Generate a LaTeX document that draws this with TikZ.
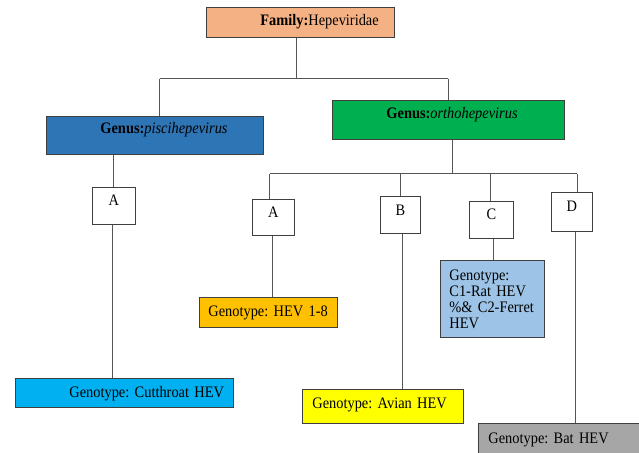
\documentclass[tikz,border=0pt]{standalone}
\usepackage{fontspec}
\setmainfont{Liberation Serif}[FakeStretch=0.9]
\frenchspacing
\newcommand\dgfont{\fontsize{16}{16}\selectfont}
\definecolor{famc}{HTML}{F4B183}
\definecolor{piscic}{HTML}{2E75B6}
\definecolor{orthoc}{HTML}{00B050}
\definecolor{hevc}{HTML}{FFC000}
\definecolor{cgenc}{HTML}{9DC3E6}
\definecolor{cutc}{HTML}{00B0F0}
\definecolor{avianc}{HTML}{FFFF00}
\definecolor{batc}{HTML}{A6A6A6}
\definecolor{bordc}{HTML}{3F3F3F}
\definecolor{connc}{HTML}{555555}
\tikzset{
  box/.style={draw=bordc, line width=0.8pt, inner sep=0pt, align=left, font=\dgfont, anchor=north west},
  letterbox/.style={box, align=center, fill=white},
  conn/.style={draw=connc, line width=0.9pt}
}
\begin{document}
\begin{tikzpicture}[x=1pt,y=-1pt]
\useasboundingbox (0,0) rectangle (639,452);
% boxes
\node[box, fill=famc, text width=188pt, text height=18.5pt, text depth=11.5pt] (fam) at (206,7) {\hspace*{54pt}\textbf{Family:}Hepeviridae};
\node[box, fill=piscic, text width=217pt, text height=17pt, text depth=21pt] (pisci) at (46,116) {\hspace*{54pt}\textbf{Genus:}\textit{piscihepevirus}};
\node[box, fill=orthoc, text width=232pt, text height=18pt, text depth=21pt] (ortho) at (332,100) {\hspace*{54pt}\textbf{Genus:}\textit{orthohepevirus}};
\node[letterbox, text width=43pt, text height=18pt, text depth=19pt] (pA) at (92,187) {A};
\node[letterbox, text width=42pt, text height=18pt, text depth=18pt] (oA) at (252,199) {A};
\node[letterbox, text width=40pt, text height=19pt, text depth=18pt] (oB) at (380,196) {B};
\node[letterbox, text width=44pt, text height=18pt, text depth=19pt] (oC) at (469,201) {C};
\node[letterbox, text width=41pt, text height=19pt, text depth=20pt] (oD) at (551,192) {D};
\node[box, fill=hevc, text width=138pt, text height=19pt, text depth=11pt] (hev) at (199,297) {\hspace*{9pt}Genotype: HEV 1-8};
\node[box, fill=cgenc, inner xsep=9pt, text width=86pt, minimum height=77pt] (cgen) at (440,260) {Genotype:\\C1-Rat HEV\\\%\& C2-Ferret\\HEV};
\node[box, fill=cutc, text width=218pt, text height=19pt, text depth=10pt] (cut) at (15,377.7) {\hspace*{54pt}Genotype: Cutthroat HEV};
\node[box, fill=avianc, text width=161pt, text height=19pt, text depth=15pt] (avian) at (302,389) {\hspace*{10pt}Genotype: Avian HEV};
\node[box, fill=batc, text width=175pt, text height=20pt, text depth=15pt] (bat) at (478,423) {\hspace*{10pt}Genotype: Bat HEV};
% junction coordinates
\coordinate (j1) at (296,78.7);
\coordinate (h1L) at (159.5,78.7);
\coordinate (h1R) at (448,78.7);
\coordinate (j2) at (452,173.7);
\coordinate (h2L) at (269.5,173.7);
\coordinate (h2R) at (577,173.7);
% connectors
\draw[conn] (fam.south -| j1) -- (j1);
\draw[conn] (h1L) -- (h1R);
\draw[conn] (h1L) -- (h1L |- pisci.north);
\draw[conn] (h1R) -- (h1R |- ortho.north);
\draw[conn] (ortho.south -| j2) -- (j2);
\draw[conn] (h2L) -- (h2R);
\draw[conn] (h2L) -- (h2L |- oA.north);
\draw[conn] (h2L -| oB.north) -- (oB.north);
\draw[conn] ([xshift=-1pt]oC.north |- h2L) -- ([xshift=-1pt]oC.north);
\draw[conn] (h2R) -- (h2R |- oD.north);
\draw[conn] (pA.north) -- (pA.north |- pisci.south);
\draw[conn] ([xshift=-1pt]pA.south) -- ([xshift=-1pt]pA.south |- cut.north);
\draw[conn] ([xshift=-1pt]oA.south) -- ([xshift=-1pt]oA.south |- hev.north);
\draw[conn] ([xshift=2pt]oB.south) -- ([xshift=2pt]oB.south |- avian.north);
\draw[conn] ([xshift=2pt]oC.south) -- ([xshift=2pt]oC.south |- cgen.north);
\draw[conn] ([xshift=4pt]oD.south) -- ([xshift=4pt]oD.south |- bat.north);
\end{tikzpicture}
\end{document}
